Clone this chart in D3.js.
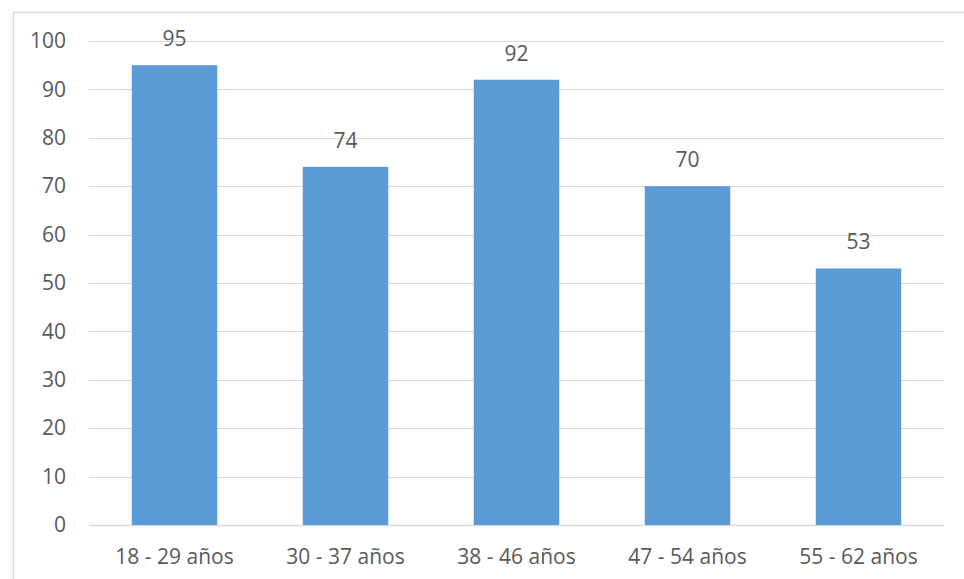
<!DOCTYPE html>
<html>
<head>
<meta charset="utf-8">
<script src="https://cdn.jsdelivr.net/npm/d3@7"></script>
<style>
  html, body { margin: 0; padding: 0; background: #fff; }
  svg { display: block; }
</style>
</head>
<body>
<svg id="chart" width="964" height="579"></svg>
<script>
// Age groups and their counts
const categories = ["18 - 29 años", "30 - 37 años", "38 - 46 años", "47 - 54 años", "55 - 62 años"];
const values = [95, 74, 92, 70, 53];
const yTicks = [0, 10, 20, 30, 40, 50, 60, 70, 80, 90, 100];

const W = 964, H = 579;
const margin = { left: 89, right: 20, top: 41, bottom: 54 };
const font = "'Open Sans', sans-serif";
const fontSize = 21;
const textColor = "#595959";
const gridColor = "#d9d9d9";
const barColor = "#5B9BD5";

const svg = d3.select("#chart");

// Chart area frame
svg.append("rect")
  .attr("x", 13.5).attr("y", 12.5)
  .attr("width", W).attr("height", H)
  .attr("fill", "none").attr("stroke", gridColor).attr("stroke-width", 1.5);

const x = d3.scaleBand()
  .domain(categories)
  .range([margin.left, W - margin.right])
  .paddingInner(0.5).paddingOuter(0.25);

const y = d3.scaleLinear()
  .domain([0, 100])
  .range([H - margin.bottom, margin.top]);

// Horizontal gridlines
svg.append("g")
  .selectAll("line")
  .data(yTicks)
  .join("line")
  .attr("x1", margin.left).attr("x2", W - margin.right)
  .attr("y1", d => Math.round(y(d)) + 0.5).attr("y2", d => Math.round(y(d)) + 0.5)
  .attr("stroke", gridColor).attr("stroke-width", d => d === 0 ? 1.5 : 1.2);

// Y axis labels
const yAxis = svg.append("g")
  .attr("transform", `translate(${margin.left - 23},0)`)
  .call(d3.axisLeft(y).tickValues(yTicks).tickSize(0).tickPadding(0));
yAxis.select(".domain").remove();
yAxis.selectAll("text")
  .attr("font-family", font).attr("font-size", fontSize).attr("fill", textColor);

// Bars
svg.append("g")
  .selectAll("rect")
  .data(values)
  .join("rect")
  .attr("x", (d, i) => x(categories[i]))
  .attr("y", d => y(d))
  .attr("width", x.bandwidth())
  .attr("height", d => y(0) - y(d))
  .attr("fill", barColor);

// Value labels
svg.append("g")
  .selectAll("text")
  .data(values)
  .join("text")
  .attr("x", (d, i) => x(categories[i]) + x.bandwidth() / 2)
  .attr("y", d => y(d) - 19)
  .attr("text-anchor", "middle")
  .attr("font-family", font).attr("font-size", fontSize).attr("fill", textColor)
  .text(d => d);

// X axis labels
const xAxis = svg.append("g")
  .attr("transform", `translate(0,${y(0)})`)
  .call(d3.axisBottom(x).tickSize(0).tickPadding(0));
xAxis.select(".domain").remove();
xAxis.selectAll("text")
  .attr("y", 39).attr("dy", null)
  .attr("font-family", font).attr("font-size", fontSize).attr("fill", textColor);
</script>
</body>
</html>
